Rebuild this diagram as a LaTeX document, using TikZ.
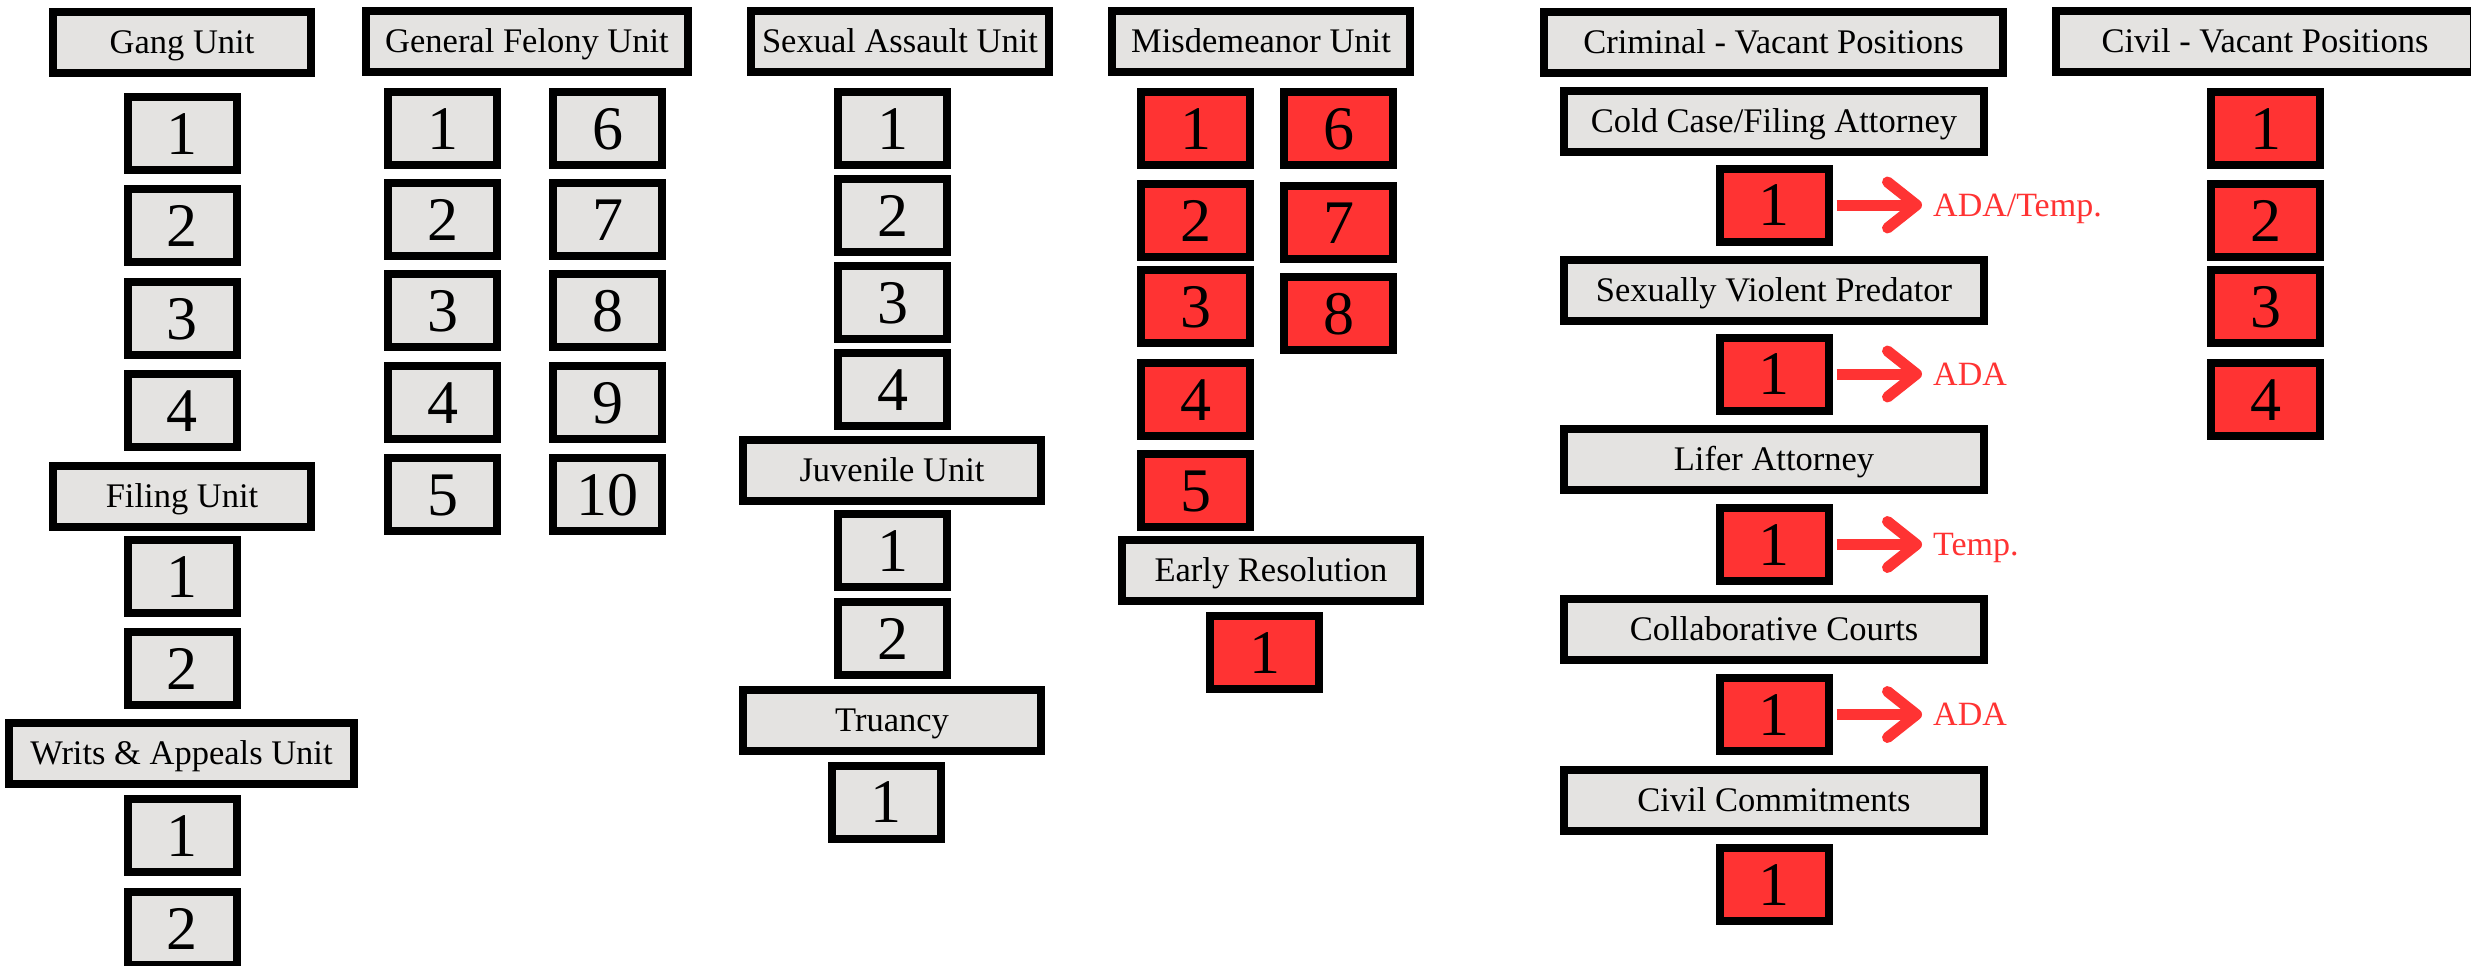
\documentclass[tikz,border=0pt]{standalone}
\usepackage{fontspec}
\setmainfont{Liberation Serif}
\usetikzlibrary{arrows.meta}

\definecolor{boxgray}{RGB}{228,227,225}
\definecolor{vacred}{RGB}{255,51,51}

\begin{document}
\begin{tikzpicture}[
  x=1pt, y=-1pt,
  box/.style={
    rectangle, draw=black, line width=8pt, fill=boxgray,
    inner sep=0pt, text depth=0pt,
  },
  hdr/.style={box, minimum width=#1, minimum height=61pt,
              font=\fontsize{34.5}{40}\selectfont, text height=22.5pt},
  seat/.style={box, minimum width=109pt, minimum height=73pt,
               font=\fontsize{62}{70}\selectfont, text height=41.8pt},
  vacant/.style={seat, fill=vacred},
  note/.style={anchor=west, inner sep=0pt, text=vacred, text depth=0pt,
               font=\fontsize{34}{40}\selectfont, text height=22.3pt},
  flow/.style={draw=vacred, line width=11pt, shorten <=4pt, shorten >=11pt,
               -{Straight Barb[length=29pt, width=46pt, round]}},
]
\useasboundingbox (0,0) rectangle (2471,966);

% Gang / Filing / Writs
\node[hdr=258pt] (gang)  at (182,42.5)  {Gang Unit};
\node[seat]      (gang1) at (182,133.5) {1};
\node[seat]      (gang2) at (182,225.5) {2};
\node[seat]      (gang3) at (182,318.5) {3};
\node[seat]      (gang4) at (182,410.5) {4};
\node[hdr=258pt] (fil)   at (182,496.5) {Filing Unit};
\node[seat]      (fil1)  at (182,576.5) {1};
\node[seat]      (fil2)  at (182,668.5) {2};
\node[hdr=345pt] (wri)   at (181.5,753.5) {Writs \& Appeals Unit};
\node[seat]      (wri1)  at (182,835.5) {1};
\node[seat]      (wri2)  at (182,928.5) {2};

% General Felony
\node[hdr=322pt] (gf)    at (527,41.5)    {General Felony Unit};
\node[seat]      (gf1)   at (442.5,128.5) {1};
\node[seat]      (gf2)   at (442.5,219.5) {2};
\node[seat]      (gf3)   at (442.5,310.5) {3};
\node[seat]      (gf4)   at (442.5,402.5) {4};
\node[seat]      (gf5)   at (442.5,494.5) {5};
\node[seat]      (gf6)   at (607.5,128.5) {6};
\node[seat]      (gf7)   at (607.5,219.5) {7};
\node[seat]      (gf8)   at (607.5,310.5) {8};
\node[seat]      (gf9)   at (607.5,402.5) {9};
\node[seat]      (gf10)  at (607.5,494.5) {10};

% Sexual Assault / Juvenile / Truancy
\node[hdr=298pt] (sa)    at (900,41.5)    {Sexual Assault Unit};
\node[seat]      (sa1)   at (892.5,128.5) {1};
\node[seat]      (sa2)   at (892.5,215.5) {2};
\node[seat]      (sa3)   at (892.5,302.5) {3};
\node[seat]      (sa4)   at (892.5,389.5) {4};
\node[hdr=298pt] (juv)   at (892,470)     {Juvenile Unit};
\node[seat]      (juv1)  at (892.5,550.5) {1};
\node[seat]      (juv2)  at (892.5,638.5) {2};
\node[hdr=298pt] (tru)   at (892,720)     {Truancy};
\node[seat]      (tru1)  at (886,802)     {1};

% Misdemeanor / Early Resolution
\node[hdr=298pt] (mis)   at (1261,41.5)    {Misdemeanor Unit};
\node[vacant]    (mis1)  at (1195.5,128.5) {1};
\node[vacant]    (mis2)  at (1195.5,220.5) {2};
\node[vacant]    (mis3)  at (1195.5,306.5) {3};
\node[vacant]    (mis4)  at (1195.5,399.5) {4};
\node[vacant]    (mis5)  at (1195.5,490.5) {5};
\node[vacant]    (mis6)  at (1338.5,128.5) {6};
\node[vacant]    (mis7)  at (1338.5,222.5) {7};
\node[vacant]    (mis8)  at (1338.5,313.5) {8};
\node[hdr=298pt] (early) at (1271,570.5)   {Early Resolution};
\node[vacant]    (early1) at (1264.5,652.5) {1};

% Criminal - Vacant Positions
\node[hdr=459pt] (crim)   at (1773.5,42.5) {Criminal - Vacant Positions};
\node[hdr=420pt] (cold)   at (1774,121)    {Cold Case/Filing Attorney};
\node[vacant]    (cold1)  at (1774,205)    {1};
\node[hdr=420pt] (svp)    at (1774,290)    {Sexually Violent Predator};
\node[vacant]    (svp1)   at (1774,374)    {1};
\node[hdr=420pt] (lifer)  at (1774,459.5)  {Lifer Attorney};
\node[vacant]    (lifer1) at (1774,544.5)  {1};
\node[hdr=420pt] (collab) at (1774,629.5)  {Collaborative Courts};
\node[vacant]    (collab1) at (1774,714.5) {1};
\node[hdr=420pt] (civc)   at (1774,800)    {Civil Commitments};
\node[vacant]    (civc1)  at (1774,884.5)  {1};

\node[note] (coldn)   at (1933,205)   {ADA/Temp.};
\node[note] (svpn)    at (1933,374)   {ADA};
\node[note] (lifern)  at (1933,544.5) {Temp.};
\node[note] (collabn) at (1933,714.5) {ADA};

\draw[flow] (cold1.east)   -- (cold1.east -| coldn.west);
\draw[flow] (svp1.east)    -- (svp1.east -| svpn.west);
\draw[flow] (lifer1.east)  -- (lifer1.east -| lifern.west);
\draw[flow] (collab1.east) -- (collab1.east -| collabn.west);

% Civil - Vacant Positions
\node[hdr=418pt] (civ)  at (2265,41.5)    {Civil - Vacant Positions};
\node[vacant]    (civ1) at (2265.5,128.5) {1};
\node[vacant]    (civ2) at (2265.5,220.5) {2};
\node[vacant]    (civ3) at (2265.5,306.5) {3};
\node[vacant]    (civ4) at (2265.5,399.5) {4};
\end{tikzpicture}
\end{document}
